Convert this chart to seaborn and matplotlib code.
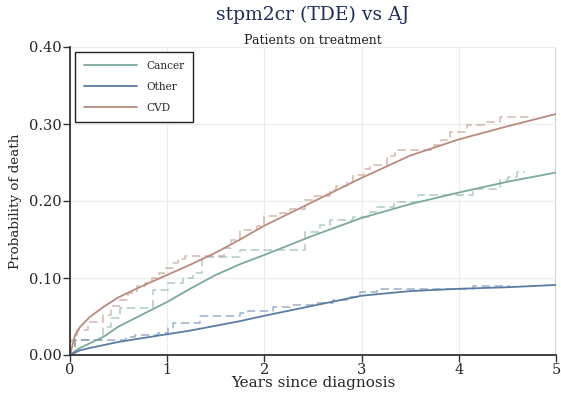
import matplotlib
matplotlib.use("Agg")
import matplotlib.pyplot as plt
import pandas as pd
import seaborn as sns

# fitted stpm2cr curves
years = [0, 0.05, 0.1, 0.2, 0.35, 0.5, 0.75, 1, 1.25, 1.5, 1.75, 2, 2.5, 3, 3.5, 4, 4.5, 5]
cancer_fit = [0, 0.005, 0.009, 0.015, 0.024, 0.037, 0.053, 0.069, 0.087, 0.104, 0.118, 0.130, 0.155, 0.178, 0.196, 0.211, 0.225, 0.237]
other_fit = [0, 0.003, 0.006, 0.009, 0.013, 0.017, 0.022, 0.027, 0.032, 0.038, 0.044, 0.051, 0.064, 0.077, 0.083, 0.086, 0.088, 0.091]
cvd_fit = [0, 0.025, 0.036, 0.049, 0.063, 0.075, 0.090, 0.104, 0.118, 0.133, 0.150, 0.168, 0.199, 0.230, 0.259, 0.280, 0.297, 0.313]

# Aalen-Johansen step estimates
cancer_aj_t = [0, 0.013, 0.05, 0.34, 0.42, 0.51, 0.85, 1.01, 1.16, 1.27, 1.355, 1.75, 2.42, 2.57, 2.67, 2.915,
               3.09, 3.155, 3.33, 3.58, 4.15, 4.42, 4.51, 4.6, 4.68]
cancer_aj = [0, 0.011, 0.0195, 0.037, 0.048, 0.0606, 0.0844, 0.093, 0.100, 0.106, 0.127, 0.136, 0.160, 0.169, 0.175, 0.1796,
             0.186, 0.1926, 0.199, 0.2078, 0.215, 0.227, 0.2316, 0.238, 0.238]
other_aj_t = [0, 0.013, 0.05, 0.58, 0.665, 0.905, 1.01, 1.06, 1.34, 1.75, 1.835, 2.09, 2.26, 2.5, 2.71, 2.865,
              2.98, 3.155, 4.15, 4.53]
other_aj = [0, 0.011, 0.0195, 0.023, 0.026, 0.029, 0.0346, 0.042, 0.0506, 0.054, 0.0576, 0.062, 0.0645, 0.068, 0.0714, 0.0757,
            0.082, 0.0857, 0.090, 0.090]
cvd_aj_t = [0, 0.013, 0.075, 0.185, 0.34, 0.42, 0.51, 0.60, 0.685, 0.77, 0.84, 0.92, 0.99, 1.06, 1.11, 1.18, 1.58, 1.66,
            1.75, 1.92, 2.0, 2.16, 2.26, 2.42, 2.5, 2.67, 2.74, 2.85, 2.91, 3.02, 3.09, 3.26, 3.34, 3.74, 3.82, 3.91,
            4.08, 4.27, 4.42, 4.77]
cvd_aj = [0, 0.019, 0.033, 0.043, 0.052, 0.063, 0.071, 0.080, 0.089, 0.093, 0.0996, 0.106, 0.113, 0.119, 0.125, 0.129, 0.1385, 0.149,
          0.162, 0.167, 0.180, 0.184, 0.190, 0.201, 0.206, 0.214, 0.219, 0.225, 0.234, 0.242, 0.247, 0.258, 0.266, 0.273, 0.279, 0.290,
          0.299, 0.303, 0.3095, 0.3095]

causes = ['Cancer', 'Other', 'CVD']
colors = {'Cancer': '#7ba99b', 'Other': '#5a7ca3', 'CVD': '#b98a80'}

sns.set_style("ticks")
plt.rcParams['font.family'] = ['DejaVu Serif']

fig = plt.figure(figsize=(5.61, 3.93), dpi=100)
ax = fig.add_axes([70 / 561, 1 - 355 / 393, 486 / 561, 308 / 393])

fits = {'Cancer': cancer_fit, 'Other': other_fit, 'CVD': cvd_fit}
steps = {'Cancer': (cancer_aj_t, cancer_aj), 'Other': (other_aj_t, other_aj), 'CVD': (cvd_aj_t, cvd_aj)}

for c in causes:
    t, v = steps[c]
    sns.lineplot(x=t, y=v, ax=ax, color=colors[c], alpha=0.6, lw=1.1, drawstyle='steps-post',
                 estimator=None, sort=False, dashes=False, linestyle=(0, (5.5, 3)))

handles = []
for c in causes:
    sns.lineplot(x=years, y=fits[c], ax=ax, color=colors[c], lw=1.3, estimator=None, sort=False)
    handles.append(ax.lines[-1])

ax.axvline(5, color='#c8c8c8', lw=2, zorder=0)
ax.set_xlim(0, 5)
ax.set_ylim(0, 0.4)
ax.set_xticks([0, 1, 2, 3, 4, 5])
ax.set_yticks([0, 0.1, 0.2, 0.3, 0.4])
ax.set_yticklabels(['0.00', '0.10', '0.20', '0.30', '0.40'])
ax.grid(True, color='#ececec', lw=0.9)
ax.set_axisbelow(True)
for s in ['top', 'right']:
    ax.spines[s].set_visible(False)
for s in ['left', 'bottom']:
    ax.spines[s].set_color('#333333')
    ax.spines[s].set_linewidth(1.3)
ax.tick_params(direction='out', length=5, width=1, color='#333333', labelsize=10.5, pad=1)

ax.set_xlabel('Years since diagnosis', fontsize=11, labelpad=-1)
ax.set_ylabel('Probability of death', fontsize=9.7, labelpad=5)

leg = ax.legend(handles, causes, loc='upper left', fontsize=7.6, frameon=True, fancybox=False,
                edgecolor='#222222', framealpha=1, handlelength=5.0, handletextpad=0.9,
                borderaxespad=0.45, labelspacing=1.05, borderpad=0.85)
leg.get_frame().set_linewidth(1.0)

fig.text(313 / 561, 1 - 15 / 393, 'stpm2cr (TDE) vs AJ', ha='center', va='center', fontsize=13.5, color='#1e2d5a')
fig.text(313 / 561, 1 - 40 / 393, 'Patients on treatment', ha='center', va='center', fontsize=9, color='#222222')

fig.savefig('out.png', dpi=100)
